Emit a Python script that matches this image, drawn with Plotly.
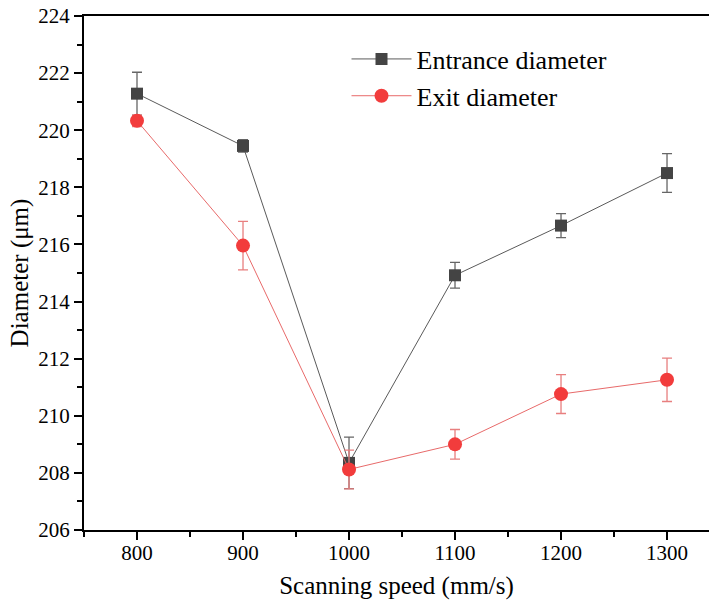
import plotly.graph_objects as go

speed = [800, 900, 1000, 1100, 1200, 1300]
entrance = [221.28, 219.45, 208.35, 214.92, 216.66, 218.5]
entrance_err = [0.75, 0.22, 0.9, 0.45, 0.42, 0.68]
exit_d = [220.33, 215.96, 208.12, 209.0, 210.76, 211.26]
exit_err = [0.2, 0.85, 0.68, 0.52, 0.68, 0.76]
x_ticks = [800, 900, 1000, 1100, 1200, 1300]

font = "Liberation Serif"

fig = go.Figure()
fig.add_trace(go.Scatter(
    x=speed, y=entrance, name="Entrance diameter", mode="lines+markers",
    line=dict(color="#5a5a5a", width=1),
    marker=dict(symbol="square", size=12, color="#444444"),
    error_y=dict(type="data", array=entrance_err, color="#666666", thickness=1.3, width=5),
))
fig.add_trace(go.Scatter(
    x=speed, y=exit_d, name="Exit diameter", mode="lines+markers",
    line=dict(color="#e86a6a", width=1),
    marker=dict(symbol="circle", size=14, color="#f23c3c"),
    error_y=dict(type="data", array=exit_err, color="#e87f7f", thickness=1.3, width=5),
))

fig.update_layout(
    template="none",
    width=709, height=605,
    margin=dict(l=84, r=0, t=16, b=75, pad=0),
    plot_bgcolor="white", paper_bgcolor="white",
    font=dict(family=font, size=21, color="black"),
    showlegend=True,
    legend=dict(x=0.42, y=0.962, xanchor="left", yanchor="top",
                bgcolor="rgba(0,0,0,0)", font=dict(size=26, family=font),
                itemwidth=60, tracegroupgap=0),
)
fig.update_xaxes(
    range=[750, 1339.6], tickvals=x_ticks,
    showgrid=False, zeroline=False,
    showline=True, linecolor="black", linewidth=2, mirror=True,
    ticks="outside", ticklen=8, tickwidth=2, tickcolor="black",
    ticklabelstandoff=-5,
    minor=dict(ticks="outside", ticklen=5, tickwidth=2, tickcolor="black", dtick=50, tick0=750),
    title=dict(text="Scanning speed (mm/s)", font=dict(size=25, family=font), standoff=12),
    tickfont=dict(size=21, family=font, color="black"),
)
fig.update_yaxes(
    range=[206, 224], dtick=2, tick0=206,
    showgrid=False, zeroline=False,
    showline=True, linecolor="black", linewidth=2, mirror=False,
    ticks="outside", ticklen=8, tickwidth=2, tickcolor="black",
    minor=dict(ticks="outside", ticklen=5, tickwidth=2, tickcolor="black", dtick=1),
    title=dict(text="Diameter (μm)", font=dict(size=25, family=font), standoff=3),
    tickfont=dict(size=21, family=font, color="black"),
)

fig.write_html("out.html", config={"displayModeBar": False},
               post_script="document.body.style.margin='0';document.body.style.overflow='hidden';")
